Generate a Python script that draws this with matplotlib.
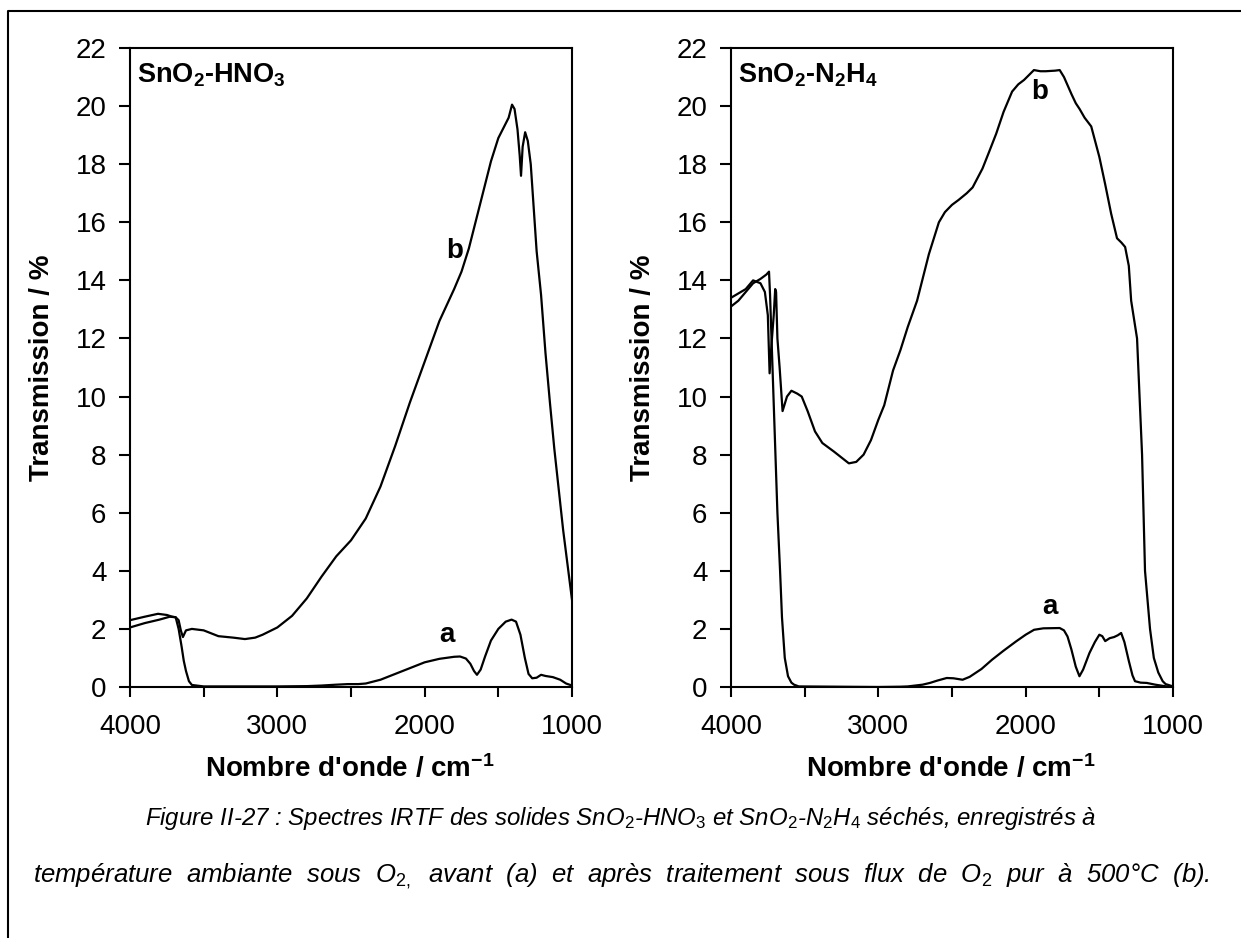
import matplotlib
matplotlib.use("Agg")
import matplotlib.pyplot as plt
from matplotlib.lines import Line2D
from matplotlib.ticker import FixedLocator, FuncFormatter
import numpy as np

plt.rcParams["font.family"] = ["Liberation Sans", "DejaVu Sans"]
plt.rcParams["mathtext.fontset"] = "custom"
plt.rcParams["mathtext.rm"] = "Liberation Sans"
plt.rcParams["mathtext.it"] = "Liberation Sans:italic"
plt.rcParams["mathtext.bf"] = "Liberation Sans:bold"

# SnO2-HNO3, curve a (before treatment)
hno3_a_wn = [4000, 3900, 3800, 3730, 3690, 3670, 3650, 3635, 3620, 3600, 3580, 3500, 3000, 2800,
             2700, 2600, 2520, 2450, 2400, 2300, 2200, 2100, 2000, 1900, 1800, 1760, 1720, 1690,
             1665, 1645, 1620, 1590, 1550, 1500, 1450, 1410, 1380, 1350, 1320, 1295, 1270, 1240,
             1210, 1180, 1130, 1080, 1040, 1000]
hno3_a_t = [2.05, 2.2, 2.32, 2.42, 2.4, 2.0, 1.4, 0.9, 0.55, 0.2, 0.07, 0.02, 0.02, 0.03,
            0.05, 0.08, 0.1, 0.1, 0.12, 0.25, 0.45, 0.65, 0.85, 0.97, 1.04, 1.05, 0.98, 0.8,
            0.55, 0.42, 0.6, 1.05, 1.6, 2.0, 2.25, 2.32, 2.25, 1.8, 1.0, 0.45, 0.3, 0.32,
            0.42, 0.38, 0.34, 0.25, 0.12, 0.05]

# SnO2-HNO3, curve b (after O2 treatment at 500 C)
hno3_b_wn = [4000, 3900, 3810, 3750, 3720, 3690, 3670, 3655, 3641, 3620, 3580, 3500, 3450,
             3400, 3300, 3220, 3150, 3100, 3000, 2900, 2800, 2700, 2600, 2500, 2400, 2300,
             2200, 2100, 2000, 1900, 1800, 1750, 1700, 1650, 1600, 1550, 1500, 1460, 1430,
             1407, 1390, 1370, 1355, 1346, 1335, 1318, 1300, 1280, 1260, 1240, 1210, 1180,
             1150, 1120, 1090, 1060, 1030, 1000]
hno3_b_t = [2.3, 2.42, 2.52, 2.48, 2.43, 2.4, 2.3, 1.95, 1.72, 1.95, 2.0, 1.95, 1.85,
            1.75, 1.7, 1.65, 1.7, 1.8, 2.05, 2.45, 3.05, 3.8, 4.5, 5.05, 5.8, 6.9,
            8.3, 9.8, 11.2, 12.6, 13.7, 14.3, 15.1, 16.1, 17.1, 18.1, 18.9, 19.3, 19.6,
            20.05, 19.9, 19.2, 18.3, 17.6, 18.6, 19.1, 18.8, 18.0, 16.5, 15.0, 13.5, 11.5,
            9.8, 8.2, 6.8, 5.4, 4.2, 3.0]

# SnO2-N2H4, curve a (before treatment)
n2h4_a_wn = [4000, 3950, 3900, 3850, 3800, 3760, 3742, 3735, 3725, 3705, 3685, 3667, 3654,
             3635, 3613, 3590, 3572, 3540, 3000, 2850, 2800, 2700, 2650, 2600, 2536, 2490,
             2428, 2380, 2300, 2228, 2150, 2065, 2000, 1943, 1880, 1769, 1740, 1716, 1690,
             1660, 1635, 1610, 1567, 1530, 1500, 1480, 1460, 1430, 1400, 1375, 1352, 1330,
             1300, 1275, 1258, 1220, 1178, 1120, 1044, 1000]
n2h4_a_t = [13.1, 13.3, 13.6, 13.9, 14.05, 14.2, 14.3, 13.5, 12.0, 9.0, 6.0, 4.0, 2.4,
            1.0, 0.37, 0.15, 0.08, 0.02, 0.0, 0.01, 0.02, 0.08, 0.14, 0.22, 0.31, 0.3,
            0.25, 0.35, 0.62, 0.94, 1.25, 1.57, 1.8, 1.97, 2.02, 2.03, 1.95, 1.74, 1.3,
            0.7, 0.37, 0.6, 1.17, 1.55, 1.8, 1.75, 1.58, 1.68, 1.72, 1.78, 1.86, 1.55,
            0.9, 0.4, 0.2, 0.15, 0.14, 0.08, 0.02, 0.0]

# SnO2-N2H4, curve b (after O2 treatment at 500 C)
n2h4_b_wn = [4000, 3950, 3900, 3850, 3800, 3770, 3750, 3738, 3725, 3710, 3700, 3694, 3685,
             3670, 3650, 3620, 3590, 3550, 3520, 3480, 3430, 3380, 3300, 3250, 3200, 3150,
             3100, 3050, 3000, 2960, 2930, 2900, 2850, 2800, 2737, 2657, 2589, 2548, 2500,
             2455, 2400, 2360, 2293, 2250, 2200, 2150, 2092, 2050, 2011, 1944, 1900, 1864,
             1800, 1769, 1740, 1688, 1660, 1634, 1600, 1555, 1500, 1460, 1420, 1380, 1350,
             1325, 1300, 1284, 1244, 1210, 1190, 1156, 1130, 1100, 1070, 1050, 1000]
n2h4_b_t = [13.4, 13.55, 13.7, 14.0, 13.9, 13.6, 12.8, 10.8, 11.8, 12.8, 13.7, 13.6, 12.0,
            11.0, 9.5, 10.0, 10.2, 10.1, 10.0, 9.5, 8.8, 8.4, 8.1, 7.9, 7.7, 7.75,
            8.0, 8.5, 9.2, 9.7, 10.3, 10.9, 11.6, 12.4, 13.3, 14.9, 16.0, 16.35, 16.6,
            16.77, 17.0, 17.2, 17.85, 18.4, 19.05, 19.8, 20.5, 20.75, 20.9, 21.24, 21.2, 21.2,
            21.22, 21.24, 21.0, 20.4, 20.1, 19.9, 19.6, 19.3, 18.25, 17.3, 16.3, 15.45, 15.3,
            15.15, 14.5, 13.3, 12.0, 8.0, 4.0, 2.0, 1.0, 0.5, 0.2, 0.1, 0.02]

panel_titles = [r"SnO$_\mathbf{2}$-HNO$_\mathbf{3}$", r"SnO$_\mathbf{2}$-N$_\mathbf{2}$H$_\mathbf{4}$"]
# label positions (wavenumber, transmission) for the "a" / "b" markers
label_pos = [{"a": (1848, 1.8), "b": (1794, 15.0)},
             {"a": (1836, 2.75), "b": (1902, 20.5)}]

caption = [r"Figure II-27 : Spectres IRTF des solides SnO$_\mathit{2}$-HNO$_\mathit{3}$ et "
           r"SnO$_\mathit{2}$-N$_\mathit{2}$H$_\mathit{4}$ séchés, enregistrés à",
           r"température ambiante sous O$_\mathit{2,}$ avant (a) et après traitement sous flux de "
           r"O$_\mathit{2}$ pur à 500°C (b)."]

W, H = 1241, 938
fig = plt.figure(figsize=(W / 100, H / 100), dpi=100)

# outer frame (left and top edges visible)
fig.add_artist(Line2D([8 / W, 8 / W, 1.01], [-0.01, 1 - 11 / H, 1 - 11 / H],
                      transform=fig.transFigure, color="k", lw=1.5))

axes_left = [130, 731]
series = [((hno3_a_wn, hno3_a_t), (hno3_b_wn, hno3_b_t)),
          ((n2h4_a_wn, n2h4_a_t), (n2h4_b_wn, n2h4_b_t))]

for i in range(2):
    ax = fig.add_axes([axes_left[i] / W, 1 - 687 / H, 442 / W, 639 / H])
    for wn, t in series[i]:
        ax.plot(wn, t, color="k", lw=1.6, solid_joinstyle="round")
    ax.set_xlim(4000, 1000)
    ax.set_ylim(0, 22)
    ax.xaxis.set_major_locator(FixedLocator(np.arange(1000, 4001, 500)))
    ax.xaxis.set_major_formatter(FuncFormatter(lambda v, p: f"{v:.0f}" if v % 1000 == 0 else ""))
    ax.set_yticks(np.arange(0, 23, 2))
    ax.tick_params(axis="x", direction="out", length=7.5, width=1.5, labelsize=20, pad=12)
    ax.tick_params(axis="y", direction="out", length=8, width=1.5, labelsize=20, pad=9)
    for s in ax.spines.values():
        s.set_linewidth(1.5)
    ax.set_xlabel(r"Nombre d'onde / cm$^\mathbf{-1}$", fontsize=20, fontweight="bold")
    ax.xaxis.set_label_coords(0.497, -0.105)
    ax.set_ylabel("Transmission / %", fontsize=20, fontweight="bold")
    ax.yaxis.set_label_coords(-0.17, 0.5)
    ax.text(0.016, 0.958, panel_titles[i], transform=ax.transAxes, fontsize=19.5,
            fontweight="bold", ha="left", va="center")
    for k, (x, y) in label_pos[i].items():
        ax.text(x, y, k, fontsize=20, fontweight="bold", ha="center", va="center")

# second caption line is spread over the full width, as in the original layout
fig.text(621 / W, 1 - 818 / H, caption[0], fontsize=17.3, style="italic", ha="center", va="center")
fig.text(621 / W, 1 - 876 / H, caption[1].replace(" ", "  "), fontsize=18.5, style="italic",
         ha="center", va="center")

fig.savefig("out.png", dpi=100)
